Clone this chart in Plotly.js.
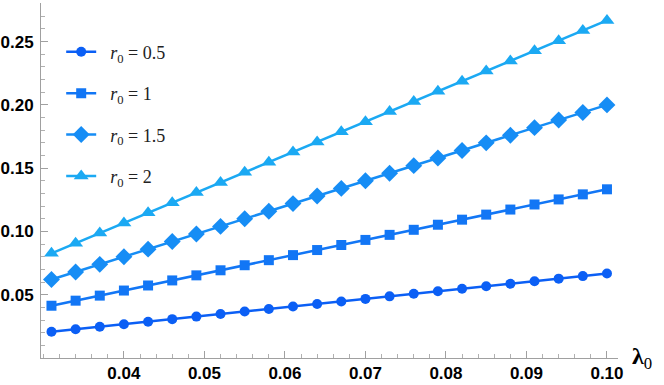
<!DOCTYPE html>
<html>
<head>
<meta charset="utf-8">
<script src="https://cdn.plot.ly/plotly-3.0.1.min.js"></script>
<style>html,body{margin:0;padding:0;background:#fff;}#chart{width:664px;height:385px;}</style>
</head>
<body>
<div id="chart"></div>
<script>
const lambda0 = [0.031, 0.034, 0.037, 0.040, 0.043, 0.046, 0.049, 0.052, 0.055, 0.058, 0.061, 0.064,
                 0.067, 0.070, 0.073, 0.076, 0.079, 0.082, 0.085, 0.088, 0.091, 0.094, 0.097, 0.100];
const seriesNames = ["r0 = 0.5", "r0 = 1", "r0 = 1.5", "r0 = 2"];
const seriesLabels = ["&nbsp;&nbsp;<i>r</i><sub>0</sub> = 0.5", "&nbsp;&nbsp;<i>r</i><sub>0</sub> = 1",
                      "&nbsp;&nbsp;<i>r</i><sub>0</sub> = 1.5", "&nbsp;&nbsp;<i>r</i><sub>0</sub> = 2"];
const r05 = [0.0207, 0.0227, 0.0247, 0.0267, 0.0287, 0.0307, 0.0327, 0.0347, 0.0367, 0.0387, 0.0407, 0.0427,
             0.0447, 0.0467, 0.0487, 0.0507, 0.0527, 0.0547, 0.0567, 0.0587, 0.0607, 0.0627, 0.0647, 0.0667];
const r10 = [0.0413, 0.0453, 0.0493, 0.0533, 0.0573, 0.0613, 0.0653, 0.0693, 0.0733, 0.0773, 0.0813, 0.0853,
             0.0893, 0.0933, 0.0973, 0.1013, 0.1053, 0.1093, 0.1133, 0.1173, 0.1213, 0.1253, 0.1293, 0.1333];
const r15 = [0.062, 0.068, 0.074, 0.080, 0.086, 0.092, 0.098, 0.104, 0.110, 0.116, 0.122, 0.128,
             0.134, 0.140, 0.146, 0.152, 0.158, 0.164, 0.170, 0.176, 0.182, 0.188, 0.194, 0.200];
const r20 = [0.0827, 0.0907, 0.0987, 0.1067, 0.1147, 0.1227, 0.1307, 0.1387, 0.1467, 0.1547, 0.1627, 0.1707,
             0.1787, 0.1867, 0.1947, 0.2027, 0.2107, 0.2187, 0.2267, 0.2347, 0.2427, 0.2507, 0.2587, 0.2667];
const xTicks = [0.04, 0.05, 0.06, 0.07, 0.08, 0.09, 0.10];
const xTickText = ["0.04", "0.05", "0.06", "0.07", "0.08", "0.09", "0.10"];
const yTicks = [0.05, 0.10, 0.15, 0.20, 0.25];
const yTickText = ["0.05", "0.10", "0.15", "0.20", "0.25"];

const colors = ["#0b5ff5", "#1276f5", "#168df5", "#1ba9f3"];
const symbols = ["circle", "square", "diamond", "triangle-up"];
const sizes = [10, 10, 13, 13];
const ys = [r05, r10, r15, r20];

const traces = ys.map((y, i) => ({
  x: lambda0, y: y, type: "scatter", mode: "lines+markers",
  name: seriesLabels[i], legendgroup: "g" + i,
  line: {color: colors[i], width: 2.5},
  marker: {color: colors[i], symbol: symbols[i], size: sizes[i]}
}));

const bold = arr => arr.map(t => "<b>" + t + "</b>");

const layout = {
  width: 664, height: 385,
  margin: {l: 41, r: 46, t: 3, b: 27},
  paper_bgcolor: "#fff", plot_bgcolor: "#fff",
  showlegend: true,
  legend: {x: 0.035, y: 0.914, xanchor: "left", yanchor: "top", bgcolor: "rgba(0,0,0,0)",
           font: {family: "Liberation Serif", size: 18, color: "#222"}, tracegroupgap: 15},
  xaxis: {range: [0.0297, 0.10137], showgrid: false, zeroline: false, showline: true,
          linecolor: "#a0a0a0", linewidth: 1, ticks: "inside", ticklen: 7, tickcolor: "#a0a0a0",
          tickvals: xTicks, ticktext: bold(xTickText), automargin: false,
          tickfont: {family: "Liberation Sans", size: 17, color: "#000"},
          minor: {dtick: 0.002, tick0: 0.0, ticks: "inside", ticklen: 4, tickcolor: "#b0b0b0", showgrid: false}},
  yaxis: {range: [0, 0.2805], showgrid: false, zeroline: false, showline: true,
          linecolor: "#a0a0a0", linewidth: 1, ticks: "inside", ticklen: 7, tickcolor: "#a0a0a0",
          tickvals: yTicks, ticktext: bold(yTickText), automargin: false, ticklabelstandoff: 3,
          tickfont: {family: "Liberation Sans", size: 17, color: "#000"},
          minor: {dtick: 0.01, tick0: 0, ticks: "inside", ticklen: 4, tickcolor: "#b0b0b0", showgrid: false}},
  annotations: [{xref: "paper", yref: "paper", x: 1, y: 0, xanchor: "left", yanchor: "middle",
                 xshift: 12, yshift: 0, showarrow: false,
                 text: "<b>λ</b><sub>0</sub>", font: {family: "Liberation Serif", size: 24, color: "#000"}}]
};

Plotly.newPlot("chart", traces, layout, {staticPlot: true, displayModeBar: false});
</script>
</body>
</html>
